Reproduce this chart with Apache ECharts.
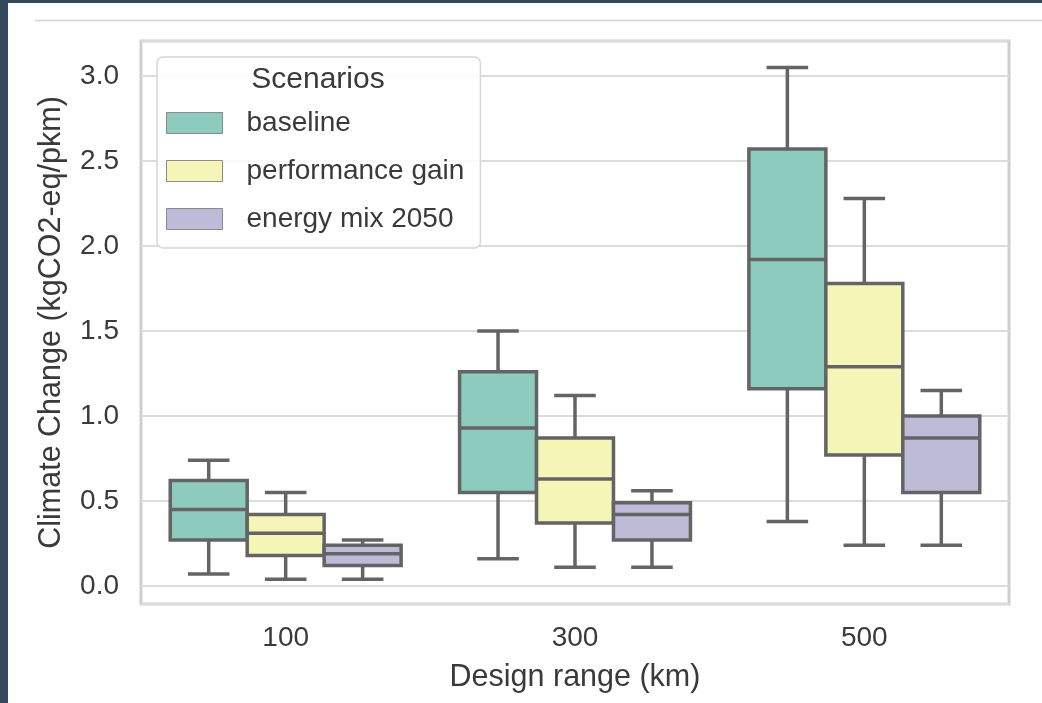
<!DOCTYPE html>
<html>
<head>
<meta charset="UTF-8">
<script src="https://cdn.jsdelivr.net/npm/echarts@6/dist/echarts.min.js"></script>
<style>
  html, body { margin: 0; padding: 0; background: #fff; }
  #chart { width: 1042px; height: 703px; }
</style>
</head>
<body>
<div id="chart"></div>
<script>
// design ranges (km) on the x axis
var ranges = ['100', '300', '500'];
var scenarios = ['baseline', 'performance gain', 'energy mix 2050'];
// box stats per range: [lower whisker, Q1, median, Q3, upper whisker]
var baseline = [
    [0.07, 0.27, 0.45, 0.62, 0.74],
    [0.16, 0.55, 0.93, 1.26, 1.50],
    [0.38, 1.16, 1.92, 2.57, 3.05]
];
var perfGain = [
    [0.04, 0.18, 0.31, 0.42, 0.55],
    [0.11, 0.37, 0.63, 0.87, 1.12],
    [0.24, 0.77, 1.29, 1.78, 2.28]
];
var energyMix = [
    [0.04, 0.12, 0.19, 0.24, 0.27],
    [0.11, 0.27, 0.42, 0.49, 0.56],
    [0.24, 0.55, 0.87, 1.00, 1.15]
];
var colors = ['#8ecbbf', '#f6f5b8', '#bebbd9'];

var edge = '#646464';
var slot = 0.266; // box width, as part of the category band

function lineStyle() {
    return { stroke: edge, lineWidth: 3.5 };
}

function renderBox(params, api) {
    var cat = api.value(0);
    var band = api.size([1, 0])[0];
    var w = band * slot;
    var cx = api.coord([cat, 0])[0] + (params.seriesIndex - 1) * w;
    var y = function (i) { return api.coord([cat, api.value(i)])[1]; };
    var lo = y(1), q1 = y(2), med = y(3), q3 = y(4), hi = y(5);
    var cap = w * 0.27;
    return {
        type: 'group',
        children: [
            { type: 'line', shape: { x1: cx, y1: q3, x2: cx, y2: hi }, style: lineStyle() },
            { type: 'line', shape: { x1: cx, y1: q1, x2: cx, y2: lo }, style: lineStyle() },
            { type: 'line', shape: { x1: cx - cap, y1: hi, x2: cx + cap, y2: hi }, style: lineStyle() },
            { type: 'line', shape: { x1: cx - cap, y1: lo, x2: cx + cap, y2: lo }, style: lineStyle() },
            {
                type: 'rect',
                shape: { x: cx - w / 2, y: q3, width: w, height: q1 - q3 },
                style: { fill: api.visual('color'), stroke: edge, lineWidth: 3.5 }
            },
            { type: 'line', shape: { x1: cx - w / 2, y1: med, x2: cx + w / 2, y2: med }, style: lineStyle() }
        ]
    };
}

function makeSeries(name, stats, color) {
    return {
        type: 'custom',
        name: name,
        renderItem: renderBox,
        itemStyle: { color: color },
        encode: { x: 0, y: [1, 2, 3, 4, 5] },
        data: stats.map(function (s, i) { return [i].concat(s); })
    };
}

var font = '"Liberation Sans", Arial, Helvetica, sans-serif';
var ink = '#3a3a3a';

var option = {
    backgroundColor: '#fff',
    animation: false,
    textStyle: { fontFamily: font },
    grid: {
        left: 141, right: 33, top: 41, bottom: 99,
        show: true,
        borderColor: '#cfcfcf',
        borderWidth: 3
    },
    legend: {
        orient: 'vertical',
        left: 157,
        top: 57,
        padding: [52, 16, 15, 9],
        icon: 'rect',
        itemWidth: 56,
        itemHeight: 21,
        itemGap: 20,
        backgroundColor: 'rgba(255,255,255,0.85)',
        borderColor: '#d6d6d6',
        borderWidth: 1.5,
        borderRadius: 6,
        textStyle: { fontSize: 28, color: ink, fontFamily: font, lineHeight: 21, padding: [0, 0, 0, 19] },
        data: scenarios.map(function (s, i) {
            return { name: s, itemStyle: { color: colors[i], borderColor: '#8a8a8a', borderWidth: 1 } };
        })
    },
    xAxis: {
        type: 'category',
        data: ranges,
        name: 'Design range (km)',
        nameLocation: 'middle',
        nameGap: 58,
        nameTextStyle: { fontSize: 30.5, color: ink, fontFamily: font },
        axisLine: { show: false },
        axisTick: { show: false },
        axisLabel: { fontSize: 28, color: ink, margin: 20 },
        splitLine: { show: false }
    },
    yAxis: {
        type: 'value',
        min: -0.106,
        max: 3.206,
        name: 'Climate Change (kgCO2-eq/pkm)',
        nameLocation: 'middle',
        nameGap: 74,
        nameTextStyle: { fontSize: 30.5, color: ink, fontFamily: font },
        axisLine: { show: false },
        axisTick: { show: false },
        axisLabel: {
            fontSize: 28, color: ink, margin: 22,
            showMinLabel: false, showMaxLabel: false,
            formatter: function (v) { return v.toFixed(1); }
        },
        splitLine: { lineStyle: { color: '#dcdcdc', width: 2 } }
    },
    graphic: [
        { type: 'rect', shape: { x: 0, y: 0, width: 1042, height: 3 }, style: { fill: '#344a5c' }, z: 100 },
        { type: 'rect', shape: { x: 0, y: 0, width: 8, height: 703 }, style: { fill: '#344a5c' }, z: 100 },
        { type: 'line', shape: { x1: 35, y1: 20.5, x2: 1042, y2: 20.5 }, style: { stroke: '#d2d2d2', lineWidth: 1.5 }, z: 100 },
        {
            type: 'text', x: 318, y: 80, z: 100,
            style: { text: 'Scenarios', fontSize: 30, fill: ink, fontFamily: font, align: 'center', verticalAlign: 'middle' }
        }
    ],
    series: [
        makeSeries(scenarios[0], baseline, colors[0]),
        makeSeries(scenarios[1], perfGain, colors[1]),
        makeSeries(scenarios[2], energyMix, colors[2])
    ]
};

var myChart = echarts.init(document.getElementById('chart'));
myChart.setOption(option);
</script>
</body>
</html>
